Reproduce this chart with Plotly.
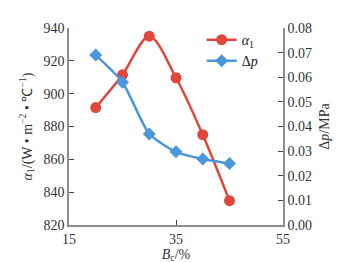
import plotly.graph_objects as go

bc = [20, 25, 30, 35, 40, 45]
alpha1 = [891.5, 911.5, 935, 909.7, 875, 834.8]
dp = [0.069, 0.058, 0.037, 0.0297, 0.0268, 0.025]

left_ticks = [820, 840, 860, 880, 900, 920, 940]
right_ticks = [0.00, 0.01, 0.02, 0.03, 0.04, 0.05, 0.06, 0.07, 0.08]
x_ticks = [15, 35, 55]

red = "#E0473B"
blue = "#4B97D8"
axcol = "#8c8c8c"
font = "Liberation Serif"

fig = go.Figure()
fig.add_trace(go.Scatter(x=bc, y=alpha1, mode="lines+markers", name="<i>α</i><sub>1</sub>",
                         line=dict(color=red, width=2.5, shape="spline", smoothing=0.9),
                         marker=dict(symbol="circle", size=11, color=red)))
fig.add_trace(go.Scatter(x=bc, y=dp, mode="lines+markers", name="Δ<i>p</i>", yaxis="y2",
                         line=dict(color=blue, width=2.5, shape="spline", smoothing=0.6),
                         marker=dict(symbol="diamond", size=10, color=blue)))

fig.update_layout(
    width=356, height=262,
    margin=dict(l=61, r=81, t=20, b=37),
    paper_bgcolor="white", plot_bgcolor="white",
    font=dict(family=font, size=14, color="#333333"),
    showlegend=True,
    legend=dict(x=0.62, y=1.02, xanchor="left", yanchor="top", bgcolor="rgba(0,0,0,0)",
                font=dict(size=14, color="#222222"), itemwidth=30, tracegroupgap=2),
    xaxis=dict(range=[15, 55], tickvals=x_ticks, showgrid=False, zeroline=False,
               showline=True, linecolor=axcol, linewidth=1.5, ticks="inside", ticklen=5,
               tickcolor="#444444", mirror=False,
               title=dict(text="<i>B</i><sub>c</sub>/%", standoff=2, font=dict(size=14))),
    yaxis=dict(range=[820, 940], tickvals=left_ticks, showgrid=False, zeroline=False,
               showline=True, linecolor=axcol, linewidth=1.5, ticks="inside", ticklen=5,
               tickcolor="#444444",
               title=dict(text="<i>α</i><sub>1</sub>/(W • m<sup>−2</sup> • ℃<sup>−1</sup>)",
                          standoff=8, font=dict(size=14))),
    yaxis2=dict(range=[0, 0.08], tickvals=right_ticks, tickformat=".2f", overlaying="y",
                side="right", showgrid=False, zeroline=False,
                showline=True, linecolor=axcol, linewidth=1.5, ticks="inside", ticklen=5,
                tickcolor="#444444",
                title=dict(text="Δ<i>p</i>/MPa", standoff=8, font=dict(size=14))),
)

fig.write_html("out.html")
